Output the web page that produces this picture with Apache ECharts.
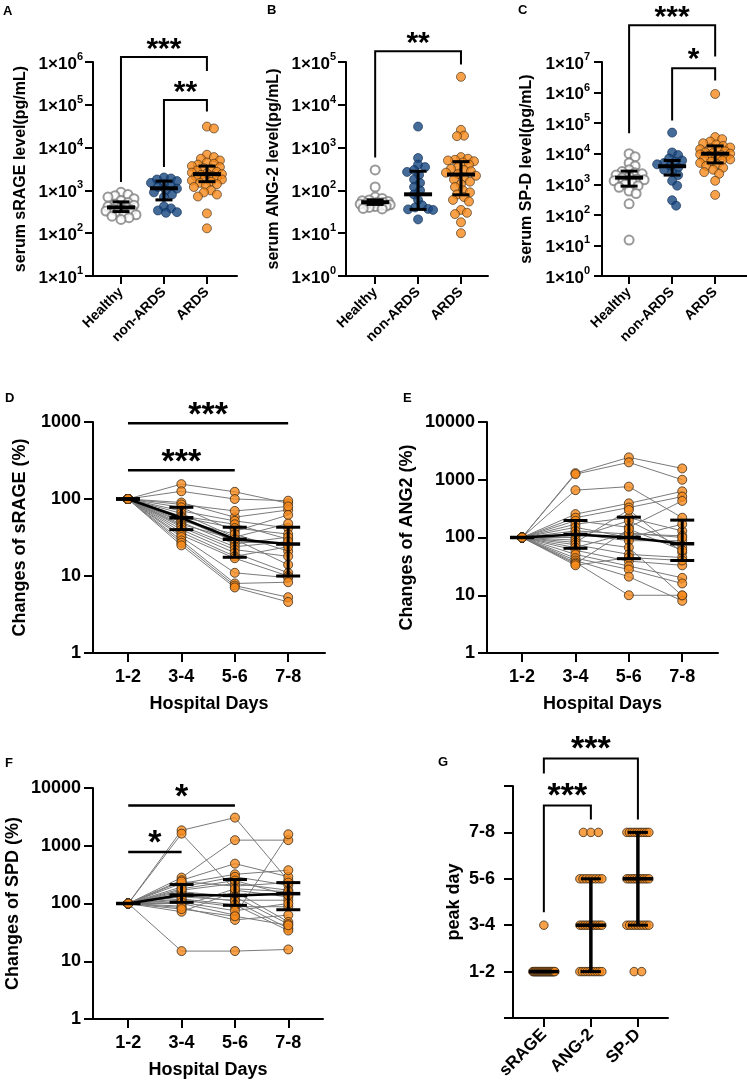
<!DOCTYPE html>
<html><head><meta charset="utf-8">
<script src="https://cdn.jsdelivr.net/npm/echarts@6/dist/echarts.min.js"></script>
<style>html,body{margin:0;padding:0;background:#fff}#c{width:747px;height:1088px}</style>
</head><body><div id="c"></div>
<script>
// ---------------- DATA ----------------
const groups = ['Healthy', 'non-ARDS', 'ARDS'];
const days = ['1-2', '3-4', '5-6', '7-8'];
const markers = ['sRAGE', 'ANG-2', 'SP-D'];

// A: serum sRAGE (pg/mL)
const sragHealthy = [900, 800, 750, 700, 640, 580, 520, 480, 450, 420, 400, 390, 370, 350, 330, 310, 290, 270, 250, 230, 210];
const sragNonArds = [2000, 1900, 1800, 1650, 1500, 1400, 1300, 1200, 1100, 1000, 900, 800, 700, 420, 380, 340, 310, 300];
const sragArds = [31000, 28000, 6800, 6000, 5500, 5000, 4500, 4200, 4000, 3700, 3500, 3300, 3100, 2900, 2700, 2600, 2500, 2400, 2300, 2200, 2100, 2000, 1900, 1800, 1700, 1600, 1500, 1400, 1300, 1200, 1000, 900, 800, 720, 290, 130];
const sragMedian = [400, 1120, 2400];
const sragQ1 = [320, 600, 1600];
const sragQ3 = [540, 1650, 3700];

// B: serum ANG-2 (pg/mL)
const angHealthy = [300, 120, 70, 65, 60, 57, 55, 53, 52, 50, 50, 48, 46, 45, 43, 42, 40, 38, 37];
const angNonArds = [3100, 570, 400, 350, 300, 270, 230, 180, 150, 120, 100, 80, 60, 45, 40, 37, 36, 35, 21];
const angArds = [45000, 2600, 1900, 1850, 600, 550, 520, 500, 480, 450, 400, 350, 320, 300, 280, 260, 240, 220, 200, 180, 160, 140, 120, 100, 90, 80, 70, 60, 55, 35, 30, 28, 18, 10];
const angMedian = [53, 81, 235];
const angQ1 = [47, 36, 79];
const angQ3 = [60, 280, 470];

// C: serum SP-D (pg/mL)
const spdHealthy = [10000, 8000, 5000, 4000, 3000, 2600, 2400, 2200, 2000, 1800, 1600, 1500, 1400, 1300, 1200, 1000, 900, 800, 600, 500, 230, 15];
const spdNonArds = [49000, 11000, 9000, 7000, 6000, 5500, 5000, 4500, 4000, 3500, 3000, 2500, 2000, 1300, 900, 300, 200];
const spdArds = [900000, 35000, 30000, 25000, 22000, 20000, 18000, 16000, 15000, 14000, 13000, 12000, 11000, 10500, 10000, 9500, 9000, 8500, 8000, 7500, 7000, 6500, 6000, 5500, 5000, 4500, 4000, 3500, 3000, 2500, 2200, 1300, 450];
const spdMedian = [1650, 3900, 10000];
const spdQ1 = [870, 2000, 5000];
const spdQ3 = [2700, 6000, 18000];

// D-F: % change vs day 1-2 (baseline 100) per patient, at days 3-4, 5-6, 7-8
const baseline = 100;
const dSrage34 = [156, 126, 90, 85, 78, 70, 65, 60, 58, 55, 52, 50, 47, 45, 43, 40, 37, 34, 32, 29, 27, 25];
const dSrage56 = [124, 100, 58, 70, 38, 52, 32, 47, 42, 28, 35, 26, 30, 24, 22, 20, 18, 17, 11, 8, 7.5, 7.1];
const dSrage78 = [88, 95, 72, 80, 62, 42, 48, 30, 35, 26, 21, 32, 14, 28, 18, 11, 24, 10, 9.5, 8.3, 5.3, 4.6];
const dSrageMedian = [100, 57, 30, 26];
const dSrageQ1 = [100, 40, 17.5, 10];
const dSrageQ3 = [100, 78, 43, 43];

const dAng34 = [1300, 1250, 660, 254, 220, 195, 170, 150, 130, 115, 100, 90, 82, 75, 67, 60, 51, 44, 40, 37, 35, 33];
const dAng56 = [2440, 2000, 760, 390, 330, 150, 220, 100, 115, 88, 195, 67, 300, 51, 120, 39, 32, 28, 21, 10, 140, 45];
const dAng78 = [1570, 1000, 220, 630, 510, 430, 130, 170, 107, 88, 67, 9.8, 55, 45, 100, 33, 20, 16, 8, 10, 60, 40];
const dAngMedian = [100, 113, 100, 78];
const dAngQ1 = [100, 65, 43, 40];
const dAngQ3 = [100, 197, 225, 200];

const dSpd34 = [1850, 1620, 281, 253, 222, 194, 170, 149, 130, 114, 100, 85, 72, 15, 240, 160, 140, 120, 105, 90, 180, 80];
const dSpd56 = [3070, 170, 1250, 490, 320, 290, 222, 140, 114, 88, 63, 52, 160, 15, 200, 130, 110, 95, 75, 180, 250, 60];
const dSpd78 = [250, 130, 1250, 290, 377, 207, 170, 149, 114, 88, 1580, 63, 48, 16, 230, 44, 37, 34, 100, 160, 140, 42];
const dSpdMedian = [100, 140, 138, 148];
const dSpdQ1 = [100, 105, 93, 78];
const dSpdQ3 = [100, 213, 260, 230];

// G: peak day (1 = 1-2, 2 = 3-4, 3 = 5-6, 4 = 7-8)
const peakSrage = [1,1,1,1,1,1,1,1,1,1,1,1,1,1,1,1,1,1,1,1,1,1,1,1,1,1,1,1,1,1,2];
const peakAng2 = [1,1,1,1,1,1,1,1,1,1,2,2,2,2,2,2,2,2,2,2,3,3,3,3,3,3,3,3,4,4,4];
const peakSpd = [1,1,2,2,2,2,2,2,2,2,2,3,3,3,3,3,3,3,3,3,3,4,4,4,4,4,4,4,4,4,4];
const peakMedian = [1, 2, 3];
const peakQ1 = [1, 1, 2];
const peakQ3 = [1, 3, 4];

// ---------------- STYLE / LAYOUT ----------------
const FONT = '"Liberation Sans", Arial, Helvetica, sans-serif';
const ORANGE = '#F68A1A';
const styleHealthy = { color: '#ffffff', borderColor: '#808080', borderWidth: 2 };
const styleNon = { color: '#174680', borderColor: '#0c2a52', borderWidth: 0.8 };
const styleArds = { color: ORANGE, borderColor: '#3b2a18', borderWidth: 0.8 };
const groupStyles = [styleHealthy, styleNon, styleArds];

const topPanels = [
  { grid: { left: 93, top: 62, width: 144, height: 214 }, x: [0.349, 3.70], y: [10, 1e6],
    name: 'serum sRAGE level(pg/mL)', nameGap: 64, lfs: 17, lsup: 11, lmargin: 10,
    sets: [sragHealthy, sragNonArds, sragArds], med: sragMedian, q1: sragQ1, q3: sragQ3,
    br: [ { x1: 1, x2: 3, y: 1.3e6, yl: 1570, yr: 6.2e5, tx: 2, ty: 2.9e6, t: '***', fs: 30 },
          { x1: 2, x2: 3, y: 1.3e5, yl: 3500, yr: 7e4, tx: 2.5, ty: 2.8e5, t: '**', fs: 30 } ] },
  { grid: { left: 346, top: 62, width: 142, height: 214 }, x: [0.32, 3.63], y: [1, 1e5],
    name: 'serum ANG-2 level(pg/mL)', nameGap: 64, lfs: 17, lsup: 11, lmargin: 10,
    sets: [angHealthy, angNonArds, angArds], med: angMedian, q1: angQ1, q3: angQ3,
    br: [ { x1: 1, x2: 3, y: 1.78e5, yl: 590, yr: 8.8e4, tx: 2, ty: 4.0e5, t: '**', fs: 30 } ] },
  { grid: { left: 602, top: 62, width: 145, height: 214 }, x: [0.37, 3.74], y: [1, 1e7],
    name: 'serum SP-D level(pg/mL)', nameGap: 67, lfs: 17, lsup: 11, lmargin: 12,
    sets: [spdHealthy, spdNonArds, spdArds], med: spdMedian, q1: spdQ1, q3: spdQ3,
    br: [ { x1: 1, x2: 3, y: 1.58e8, yl: 4.7e4, yr: 1.5e7, tx: 2, ty: 5e8, t: '***', fs: 30 },
          { x1: 2, x2: 3, y: 6.2e6, yl: 1.23e5, yr: 2.5e6, tx: 2.5, ty: 2.1e7, t: '*', fs: 30 } ] }
];

const linePanels = [
  { grid: { left: 93, top: 422, width: 232, height: 231 }, x: [0.345, 4.69], y: [1, 1000],
    name: 'Changes of sRAGE (%)', nameGap: 64, lmargin: 12,
    t34: dSrage34, t56: dSrage56, t78: dSrage78, med: dSrageMedian, q1: dSrageQ1, q3: dSrageQ3,
    br: [ { x1: 1, x2: 4, y: 960, yl: 960, yr: 960, tx: 2.5, ty: 1550, t: '***', fs: 34, lw: 2.5 },
          { x1: 1, x2: 3, y: 236, yl: 236, yr: 236, tx: 2, ty: 380, t: '***', fs: 34, lw: 2.5 } ] },
  { grid: { left: 487, top: 422, width: 231, height: 231 }, x: [0.343, 4.67], y: [1, 10000],
    name: 'Changes of ANG2 (%)', nameGap: 71, lmargin: 12,
    t34: dAng34, t56: dAng56, t78: dAng78, med: dAngMedian, q1: dAngQ1, q3: dAngQ3, br: [] },
  { grid: { left: 93, top: 788, width: 230, height: 231 }, x: [0.34, 4.65], y: [1, 10000],
    name: 'Changes of SPD (%)', nameGap: 71, lmargin: 12,
    t34: dSpd34, t56: dSpd56, t78: dSpd78, med: dSpdMedian, q1: dSpdQ1, q3: dSpdQ3,
    br: [ { x1: 1, x2: 3, y: 5000, yl: 5000, yr: 5000, tx: 2, ty: 9500, t: '*', fs: 34, lw: 2.5 },
          { x1: 1, x2: 2, y: 780, yl: 780, yr: 780, tx: 1.5, ty: 1510, t: '*', fs: 34, lw: 2.5 } ] }
];

const peakPanel = { grid: { left: 513, top: 786, width: 155, height: 232 }, x: [0.344, 3.64], y: [0, 5],
  br: [ { x1: 1, x2: 3, y: 5.59, yl: 5.27, yr: 4.28, tx: 2, ty: 5.95, t: '***', fs: 34 },
        { x1: 1, x2: 2, y: 4.58, yl: 2.28, yr: 4.28, tx: 1.5, ty: 4.95, t: '***', fs: 34 } ] };

// ---------------- HELPERS ----------------
const axisLineStyle = { color: '#000', width: 2 };
function swarm(values, pxPerDec, pxPerUnit) {
  const ys = values.map(v => Math.log10(v) * pxPerDec);
  const order = ys.map((y, i) => i).sort((a, b) => ys[b] - ys[a]);
  const placed = [], off = new Array(values.length).fill(0);
  const MIN = 6.5, MAXK = 30;
  for (const i of order) {
    let best = 0, bestD = -1;
    for (let k = 0; k <= MAXK; k++) {
      const o = (k % 2 ? 1 : -1) * Math.ceil(k / 2);
      let dmin = Infinity;
      for (const p of placed) { const d = Math.hypot(p[0] - o, p[1] - ys[i]); if (d < dmin) dmin = d; }
      if (dmin >= MIN) { best = o; bestD = dmin; break; }
      if (dmin > bestD) { bestD = dmin; best = o; }
    }
    placed.push([best, ys[i]]);
    off[i] = best / pxPerUnit;
  }
  return off;
}
function spread(values, pxPerUnit) {
  const counts = {}, seen = {};
  values.forEach(v => counts[v] = (counts[v] || 0) + 1);
  return values.map(v => {
    const n = counts[v]; const j = seen[v] = (seen[v] === undefined ? 0 : seen[v] + 1);
    const sp = n > 1 ? Math.min(7.5, 22 / (n - 1)) : 0;
    return (j - (n - 1) / 2) * sp / pxPerUnit;
  });
}
function errorBars(ax, xs, med, q1, q3, o) {
  return {
    type: 'custom', xAxisIndex: ax, yAxisIndex: ax, z: 5, silent: true, clip: false,
    data: xs.map((x, i) => [x, med[i], q1[i], q3[i]]), encode: { x: 0, y: 1 },
    renderItem: (params, api) => {
      const x = api.value(0);
      const m = api.coord([x, api.value(1)]), lo = api.coord([x, api.value(2)]), hi = api.coord([x, api.value(3)]);
      const ln = (x1, y1, x2, y2, w) => ({ type: 'line', shape: { x1, y1, x2, y2 }, style: { stroke: '#000', lineWidth: w, lineCap: 'butt' } });
      const ch = [ln(lo[0], lo[1], hi[0], hi[1], o.vw)];
      if (o.capW) { ch.push(ln(lo[0] - o.capW, lo[1], lo[0] + o.capW, lo[1], o.cw)); ch.push(ln(hi[0] - o.capW, hi[1], hi[0] + o.capW, hi[1], o.cw)); }
      ch.push(ln(m[0] - o.medW, m[1], m[0] + o.medW, m[1], o.mw));
      return { type: 'group', children: ch };
    }
  };
}
function brackets(ax, list) {
  return {
    type: 'custom', xAxisIndex: ax, yAxisIndex: ax, z: 6, silent: true, clip: false,
    data: list.map(b => [b.x1, b.y]), encode: { x: 0, y: 1 },
    renderItem: (params, api) => {
      const b = list[params.dataIndex];
      const pts = [api.coord([b.x1, b.yl]), api.coord([b.x1, b.y]), api.coord([b.x2, b.y]), api.coord([b.x2, b.yr])];
      const t = api.coord([b.tx, b.ty]);
      return { type: 'group', children: [
        { type: 'polyline', shape: { points: pts }, style: { stroke: '#000', lineWidth: b.lw || 2, fill: 'none' } },
        { type: 'text', x: t[0], y: t[1] + 0.24 * b.fs, style: { text: b.t, font: 'bold ' + b.fs + 'px ' + FONT, fill: '#000', align: 'center', verticalAlign: 'middle' } }
      ] };
    }
  };
}

// ---------------- BUILD ----------------
const grid = [], xAxis = [], yAxis = [], series = [];
let ax = 0;

topPanels.forEach(p => {
  grid.push(Object.assign({ outerBoundsMode: 'none' }, p.grid));
  xAxis.push({ gridIndex: ax, type: 'value', min: p.x[0], max: p.x[1],
    axisLine: { show: true, onZero: false, lineStyle: axisLineStyle },
    axisTick: { show: true, customValues: [1, 2, 3], length: 8, lineStyle: { color: '#000', width: 2 } },
    axisLabel: { customValues: [1, 2, 3], formatter: v => groups[Math.round(v) - 1], rotate: 45, margin: 14,
      fontFamily: FONT, fontSize: 14, fontWeight: 'bold', color: '#000' },
    splitLine: { show: false } });
  yAxis.push({ gridIndex: ax, type: 'log', logBase: 10, min: p.y[0], max: p.y[1], splitNumber: 10,
    axisLine: { show: true, lineStyle: axisLineStyle },
    axisTick: { show: true, length: 8, lineStyle: { color: '#000', width: 2 } },
    minorTick: { show: false }, splitLine: { show: false },
    axisLabel: { margin: p.lmargin, formatter: v => '{b|1×10}{s|' + Math.round(Math.log10(v)) + '}',
      rich: { b: { fontFamily: FONT, fontSize: p.lfs, fontWeight: 'bold', color: '#000', lineHeight: p.lfs + 4, verticalAlign: 'bottom' },
              s: { fontFamily: FONT, fontSize: p.lsup, fontWeight: 'bold', color: '#000', lineHeight: p.lsup + 1, verticalAlign: 'top' } } },
    name: p.name, nameLocation: 'middle', nameGap: p.nameGap,
    nameTextStyle: { fontFamily: FONT, fontSize: 16, fontWeight: 'bold', color: '#000' } });
  const decades = Math.log10(p.y[1] / p.y[0]);
  const pxDec = p.grid.height / decades, pxUnit = p.grid.width / (p.x[1] - p.x[0]);
  p.sets.forEach((vals, gi) => {
    const off = swarm(vals, pxDec, pxUnit);
    series.push({ type: 'scatter', xAxisIndex: ax, yAxisIndex: ax, z: 2, silent: true, symbolSize: 9,
      itemStyle: groupStyles[gi], data: vals.map((v, i) => [gi + 1 + off[i], v]) });
  });
  series.push(errorBars(ax, [1, 2, 3], p.med, p.q1, p.q3, { medW: 14, capW: 8.5, mw: 4, cw: 3, vw: 3 }));
  series.push(brackets(ax, p.br));
  ax++;
});

linePanels.forEach((p, li) => {
  grid.push(Object.assign({ outerBoundsMode: 'none' }, p.grid));
  xAxis.push({ gridIndex: ax, type: 'value', min: p.x[0], max: p.x[1],
    axisLine: { show: true, onZero: false, lineStyle: axisLineStyle },
    axisTick: { show: true, customValues: [1, 2, 3, 4], length: 9, lineStyle: { color: '#000', width: 2 } },
    axisLabel: { customValues: [1, 2, 3, 4], formatter: v => days[Math.round(v) - 1], margin: 15,
      fontFamily: FONT, fontSize: 18, fontWeight: 'bold', color: '#000' },
    splitLine: { show: false },
    name: 'Hospital Days', nameLocation: 'middle', nameGap: 42,
    nameTextStyle: { fontFamily: FONT, fontSize: 18, fontWeight: 'bold', color: '#000' } });
  yAxis.push({ gridIndex: ax, type: 'log', logBase: 10, min: p.y[0], max: p.y[1], splitNumber: 10,
    axisLine: { show: true, lineStyle: axisLineStyle },
    axisTick: { show: true, length: 9, lineStyle: { color: '#000', width: 2 } },
    minorTick: { show: false }, splitLine: { show: false },
    axisLabel: { margin: p.lmargin, formatter: v => String(Math.round(v)),
      fontFamily: FONT, fontSize: 18, fontWeight: 'bold', color: '#000' },
    name: p.name, nameLocation: 'middle', nameGap: p.nameGap,
    nameTextStyle: { fontFamily: FONT, fontSize: 18, fontWeight: 'bold', color: '#000' } });
  const pts = [];
  p.t34.forEach((v, i) => {
    const track = [[1, baseline], [2, p.t34[i]], [3, p.t56[i]], [4, p.t78[i]]];
    series.push({ type: 'line', xAxisIndex: ax, yAxisIndex: ax, z: 1, silent: true, symbol: 'none',
      lineStyle: { color: '#7a7a7a', width: 1 }, data: track });
    track.forEach(t => pts.push(t));
  });
  series.push({ type: 'scatter', xAxisIndex: ax, yAxisIndex: ax, z: 2, silent: true, symbolSize: 9,
    itemStyle: { color: ORANGE, borderColor: '#3b2a18', borderWidth: 1 }, data: pts });
  series.push({ type: 'line', xAxisIndex: ax, yAxisIndex: ax, z: 4, silent: true, symbol: 'none',
    lineStyle: { color: '#000', width: 2.5 }, data: p.med.map((m, i) => [i + 1, m]) });
  series.push(errorBars(ax, [1, 2, 3, 4], p.med, p.q1, p.q3, { medW: 12, capW: 12, mw: 3.5, cw: 3, vw: 3 }));
  if (p.br.length) series.push(brackets(ax, p.br));
  ax++;
});

// G
(function () {
  const p = peakPanel;
  grid.push(Object.assign({ outerBoundsMode: 'none' }, p.grid));
  xAxis.push({ gridIndex: ax, type: 'value', min: p.x[0], max: p.x[1],
    axisLine: { show: true, onZero: false, lineStyle: axisLineStyle },
    axisTick: { show: true, customValues: [1, 2, 3], length: 9, lineStyle: { color: '#000', width: 2 } },
    axisLabel: { customValues: [1, 2, 3], formatter: v => markers[Math.round(v) - 1], rotate: 45, margin: 14,
      fontFamily: FONT, fontSize: 17, fontWeight: 'bold', color: '#000' },
    splitLine: { show: false } });
  yAxis.push({ gridIndex: ax, type: 'value', min: 0, max: 5, interval: 1,
    axisLine: { show: true, lineStyle: axisLineStyle },
    axisTick: { show: true, length: 9, lineStyle: { color: '#000', width: 2 } },
    splitLine: { show: false },
    axisLabel: { margin: 18, formatter: v => (v >= 1 && v <= 4) ? days[v - 1] : '',
      fontFamily: FONT, fontSize: 18, fontWeight: 'bold', color: '#000' },
    name: 'peak day', nameLocation: 'middle', nameGap: 50,
    nameTextStyle: { fontFamily: FONT, fontSize: 18, fontWeight: 'bold', color: '#000' } });
  const pxUnit = p.grid.width / (p.x[1] - p.x[0]);
  [peakSrage, peakAng2, peakSpd].forEach((vals, gi) => {
    const off = spread(vals, pxUnit);
    series.push({ type: 'scatter', xAxisIndex: ax, yAxisIndex: ax, z: 2, silent: true, symbolSize: 8.5,
      itemStyle: { color: ORANGE, borderColor: '#3b2a18', borderWidth: 1 },
      data: vals.map((v, i) => [gi + 1 + off[i], v]) });
  });
  series.push(errorBars(ax, [1, 2, 3], peakMedian, peakQ1, peakQ3, { medW: 15, capW: 10, mw: 3.5, cw: 3, vw: 3.5 }));
  series.push(brackets(ax, p.br));
})();

const letters = [['A', 3, 5], ['B', 267, 4], ['C', 518, 4], ['D', 5, 392], ['E', 403, 392], ['F', 5, 757], ['G', 438, 756]];
const graphic = letters.map(l => ({ type: 'text', left: l[1], top: l[2],
  style: { text: l[0], font: 'bold 13px ' + FONT, fill: '#000' } }));

const chart = echarts.init(document.getElementById('c'), null, { renderer: 'canvas' });
chart.setOption({ animation: false, backgroundColor: '#fff', textStyle: { fontFamily: FONT },
  grid, xAxis, yAxis, series, graphic });
</script></body></html>
